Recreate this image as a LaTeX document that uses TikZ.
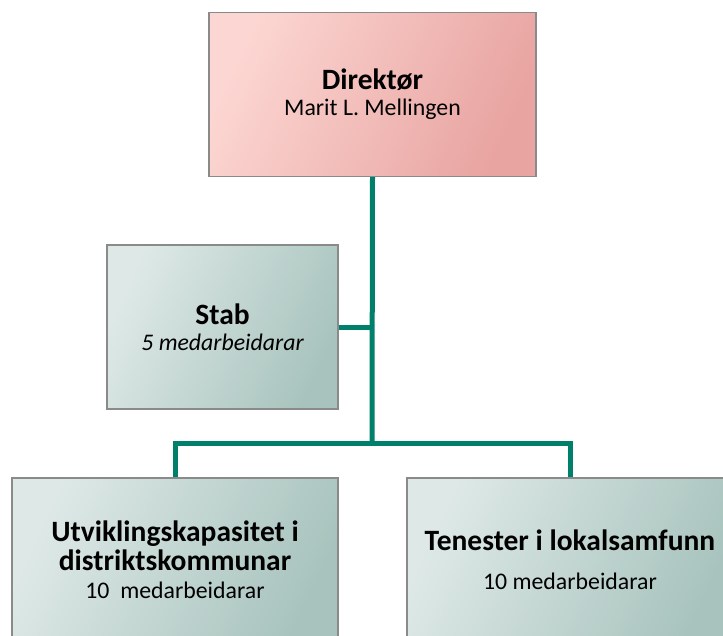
\documentclass[tikz,border=0pt]{standalone}
\usepackage{fontspec}
\setmainfont{Carlito}
\definecolor{linkgreen}{RGB}{0,128,107}
\definecolor{pinkA}{RGB}{252,214,210}
\definecolor{pinkB}{RGB}{232,164,161}
\definecolor{greenA}{RGB}{222,233,231}
\definecolor{greenB}{RGB}{168,195,189}
\definecolor{boxline}{RGB}{138,138,138}
\newcommand{\hd}{\fontsize{29.5}{28}\selectfont\bfseries}
\begin{document}
\begin{tikzpicture}[x=1pt,y=-1pt,
    box/.style={draw=boxline,line width=1.2pt,align=center,inner sep=0pt,
      font=\fontsize{23.8}{27}\selectfont},
    topbox/.style={box,left color=pinkA,right color=pinkB,shading angle=65},
    unitbox/.style={box,left color=greenA,right color=greenB,shading angle=65},
    link/.style={draw=linkgreen,line width=5pt,line join=miter}]
  \useasboundingbox (0,0) rectangle (723,635);
  \clip (0,0) rectangle (723,635);
  \node[topbox,minimum width=327pt,minimum height=164pt] (dir) at (372.5,94.5)
    {{\hd Direktør}\\[-1pt]Marit L. Mellingen};
  \node[unitbox,minimum width=231pt,minimum height=164pt] (stab) at (222.5,327)
    {{\hd Stab}\\[-1pt]{\itshape 5 medarbeidarar}};
  \node[unitbox,minimum width=326pt,minimum height=164pt] (utv) at (175,560)
    {{\hd Utviklingskapasitet i}\\[1.5pt]{\hd distriktskommunar}\\[1.5pt]10\ \ medarbeidarar};
  \node[unitbox,minimum width=326pt,minimum height=164pt] (ten) at (570,560)
    {{\hd Tenester i lokalsamfunn}\\[12pt]10 medarbeidarar};
  \coordinate (mid) at (372,443);
  \begin{scope}
    \draw[link] (dir.south) -- (mid);
    \draw[link] (stab.east) -- (stab.east -| mid);
    \draw[link] (utv.north) |- (mid) -| (ten.north);
  \end{scope}
\end{tikzpicture}
\end{document}
